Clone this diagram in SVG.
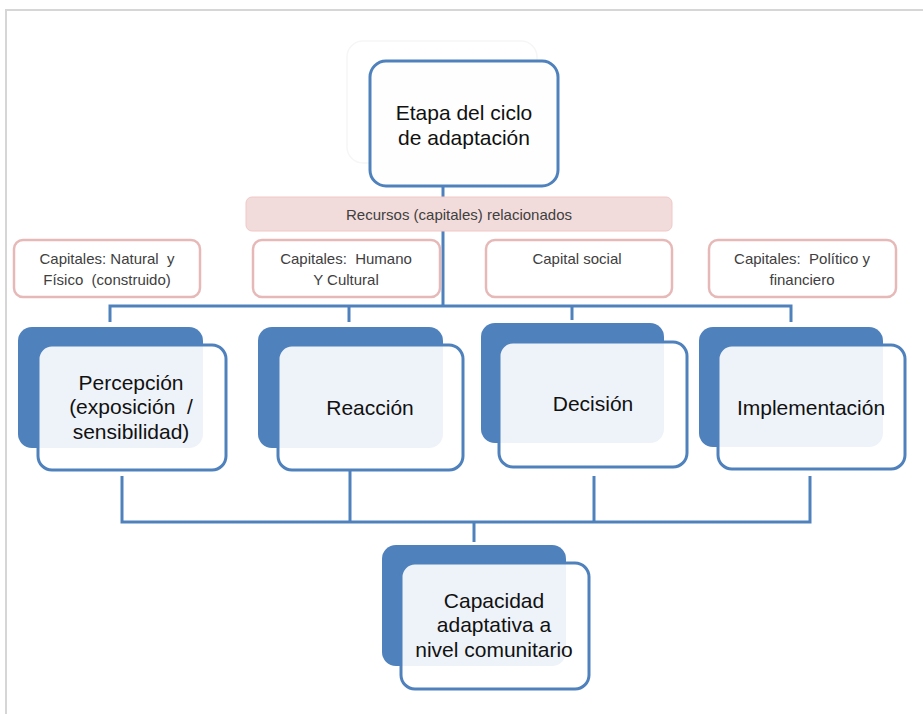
<svg xmlns="http://www.w3.org/2000/svg" width="923" height="714" viewBox="0 0 923 714">
<style>
.frame{fill:none;stroke:#d6d6d6;stroke-width:2}
.conn{fill:none;stroke:#4f81bd;stroke-width:3}
.back{fill:#4f81bd}
.front{fill:#ffffff;fill-opacity:0.9;stroke:#4f81bd;stroke-width:3}
.cap{fill:#ffffff;stroke:#e6b9b8;stroke-width:2.5}
.bar{fill:#f2dcdb;stroke:#f0c8c6;stroke-width:1}
.big{font-family:"Liberation Sans",Arial,sans-serif;font-size:21px;fill:#111;text-anchor:middle;white-space:pre}
.small{font-family:"Liberation Sans",Arial,sans-serif;font-size:15px;fill:#404040;text-anchor:middle;white-space:pre}
</style>
<rect width="923" height="714" fill="#ffffff"/>
<path class="frame" d="M6 714 V10 H923"/>
<g id="connectors">
<path class="conn" d="M443 186 V306 M110 322 V306 H791 V322 M349 306 V322 M572 306 V320"/>
<path class="conn" d="M122 476 V522 H810 V476 M350 470 V522 M594 476 V522 M474 522 V542"/>
</g>
<g id="top">
<rect x="347" y="41" width="190" height="122" rx="16" fill="none" stroke="#f6f6f6" stroke-width="1.5"/>
<rect x="370" y="61" width="188" height="125" rx="16" fill="#fefefe" stroke="#4f81bd" stroke-width="3"/>
<text class="big" x="464" y="120">Etapa del ciclo</text>
<text class="big" x="464" y="145">de adaptación</text>
</g>
<g id="recursos">
<rect class="bar" x="246" y="197" width="426" height="34" rx="6"/>
<text class="small" x="459" y="220">Recursos (capitales) relacionados</text>
</g>
<g id="cap1">
<rect class="cap" x="14" y="240" width="186" height="57" rx="9"/>
<text class="small" x="107" y="264">Capitales: Natural  y</text>
<text class="small" x="107" y="285">Físico  (construido)</text>
</g>
<g id="cap2">
<rect class="cap" x="253" y="240" width="187" height="57" rx="9"/>
<text class="small" x="346" y="264">Capitales:  Humano</text>
<text class="small" x="346" y="285">Y Cultural</text>
</g>
<g id="cap3">
<rect class="cap" x="486" y="240" width="186" height="57" rx="9"/>
<text class="small" x="577" y="264">Capital social</text>
</g>
<g id="cap4">
<rect class="cap" x="709" y="240" width="187" height="57" rx="9"/>
<text class="small" x="802" y="264">Capitales:  Político y</text>
<text class="small" x="802" y="285">financiero</text>
</g>
<g id="percepcion">
<rect class="back" x="18" y="327" width="185" height="121" rx="14"/>
<rect class="front" x="38" y="345" width="188" height="125" rx="14"/>
<text class="big" x="131" y="390">Percepción</text>
<text class="big" x="131" y="414">(exposición  /</text>
<text class="big" x="131" y="439">sensibilidad)</text>
</g>
<g id="reaccion">
<rect class="back" x="258" y="327" width="185" height="121" rx="14"/>
<rect class="front" x="278" y="345" width="185" height="125" rx="14"/>
<text class="big" x="370" y="415">Reacción</text>
</g>
<g id="decision">
<rect class="back" x="481" y="323" width="183" height="120" rx="14"/>
<rect class="front" x="499" y="342" width="188" height="125" rx="14"/>
<text class="big" x="593" y="411">Decisión</text>
</g>
<g id="implementacion">
<rect class="back" x="699" y="327" width="184" height="120" rx="14"/>
<rect class="front" x="718" y="345" width="187" height="124" rx="14"/>
<text class="big" x="811" y="415">Implementación</text>
</g>
<g id="capacidad">
<rect class="back" x="382" y="545" width="184" height="121" rx="14"/>
<rect class="front" x="401" y="563" width="188" height="126" rx="14"/>
<text class="big" x="494" y="608">Capacidad</text>
<text class="big" x="494" y="632">adaptativa a</text>
<text class="big" x="494" y="657">nivel comunitario</text>
</g>
</svg>
